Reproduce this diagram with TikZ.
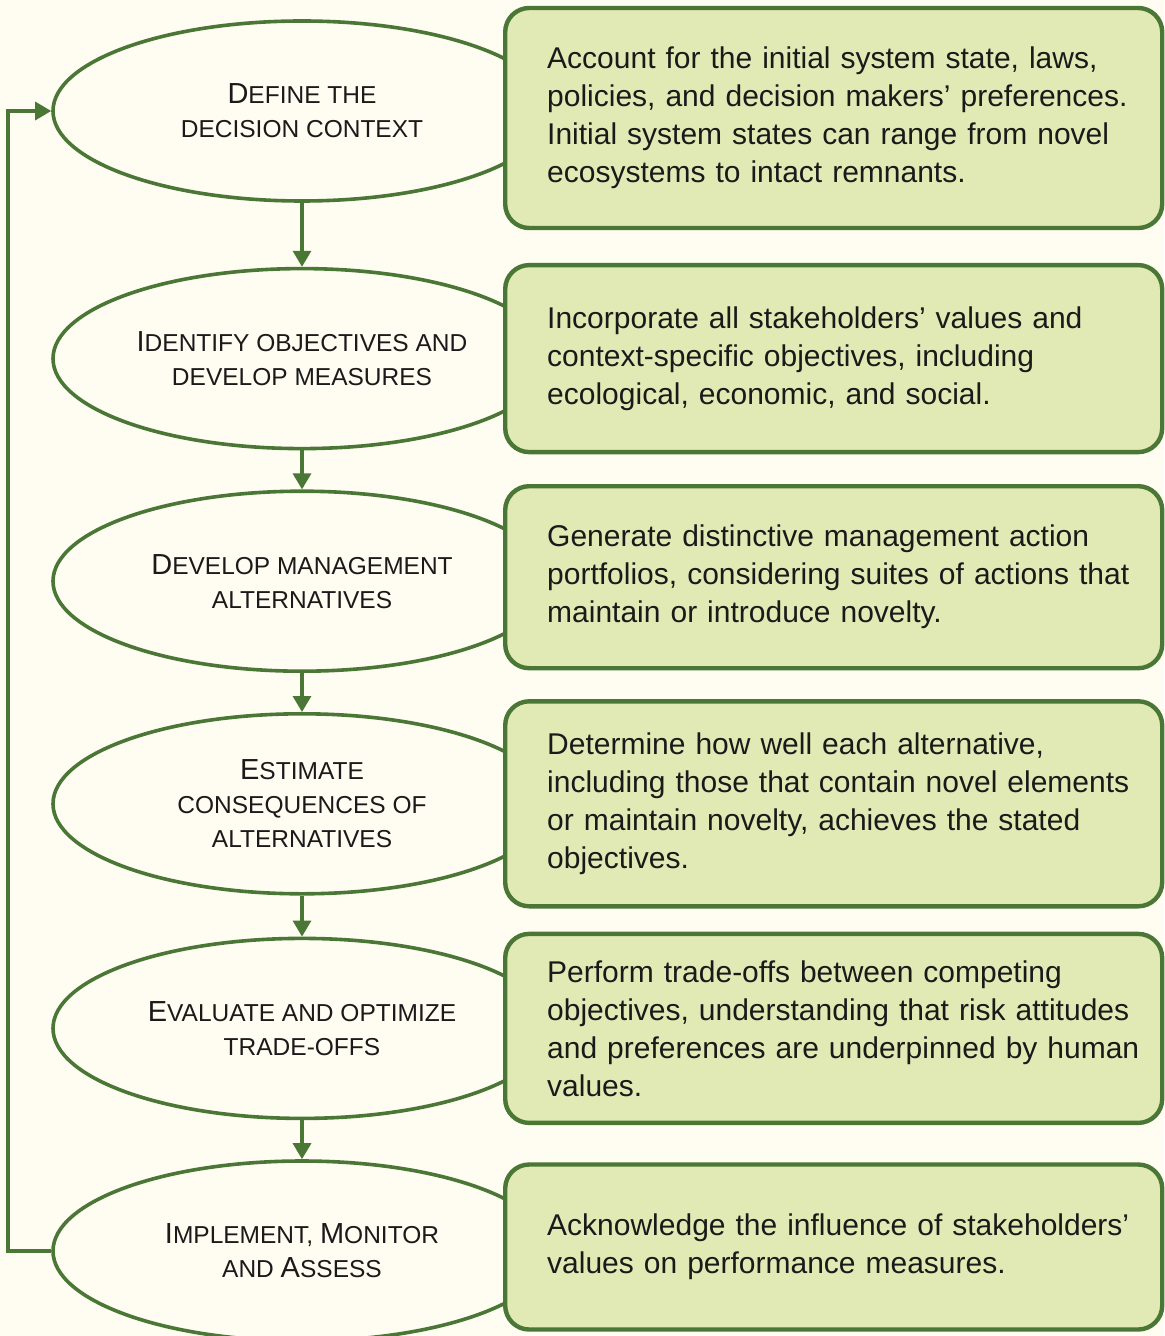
\documentclass[tikz,border=0pt]{standalone}
\usepackage{fontspec}
\setmainfont{Liberation Sans}
\usepackage{xcolor}
\usetikzlibrary{arrows.meta,positioning,shapes.geometric}

\definecolor{paper}{HTML}{FFFCF2}
\definecolor{leaf}{HTML}{E1EAB4}
\definecolor{moss}{HTML}{4B7736}
\definecolor{ink}{HTML}{1A1A1A}

\newcommand{\initial}[1]{{\fontsize{14.5pt}{17pt}\selectfont #1}}

\begin{document}
\begin{tikzpicture}[
  x=0.5pt, y=-0.5pt,
  node distance=19.5pt,
  stage/.style={ellipse,draw=moss,line width=1.8pt,fill=paper,align=center,
    minimum width=249pt,minimum height=90pt,inner sep=0pt,text=ink,
    font=\fontsize{12.25pt}{17pt}\selectfont},
  note/.style={draw=moss,line width=2.2pt,rounded corners=12pt,fill=leaf,anchor=west,
    align=left,text width=322.5pt,inner xsep=3pt,inner ysep=0pt,text=ink,
    font=\fontsize{15pt}{19pt}\selectfont,
    execute at begin node={\leftskip=18pt\hyphenpenalty=10000}},
  flow/.style={-{Triangle[length=8pt,width=9pt]},draw=moss,line width=1.6pt}
]

% --- Page ---
\fill[paper] (0,0) rectangle (1164,1336);
\useasboundingbox (0,0) rectangle (1164,1336);

% --- Stages (left column) ---
\node[stage] (e1) at (302,111) {\initial{D}EFINE THE\\DECISION CONTEXT};
\node[stage, below=32pt of e1] (e2) {\initial{I}DENTIFY OBJECTIVES AND\\DEVELOP MEASURES};
\node[stage, below=of e2] (e3) {\initial{D}EVELOP MANAGEMENT\\ALTERNATIVES};
\node[stage, below=of e3] (e4) {\initial{E}STIMATE\\CONSEQUENCES OF\\ALTERNATIVES};
\node[stage, below=20.5pt of e4] (e5) {\initial{E}VALUATE AND OPTIMIZE\\TRADE-OFFS};
\node[stage, below=of e5] (e6) {\initial{I}MPLEMENT, \initial{M}ONITOR\\AND \initial{A}SSESS};

% --- Notes (drawn over the stages) ---
\node[note, minimum height=110pt] (n1) at ([xshift=100.5pt,yshift=-3.5pt]e1.center)
  {Account for the initial system state, laws,\\policies, and decision makers' preferences.\\Initial system states can range from novel\\ecosystems to intact remnants.};
\node[note, minimum height=93.5pt] (n2) at ([xshift=100.5pt]e2.center)
  {Incorporate all stakeholders' values and\\context-specific objectives, including\\ecological, economic, and social.};
\node[note, minimum height=91pt] (n3) at ([xshift=100.5pt,yshift=2pt]e3.center)
  {Generate distinctive management action\\portfolios, considering suites of actions that\\maintain or introduce novelty.};
\node[note, minimum height=102.5pt] (n4) at ([xshift=100.5pt]e4.center)
  {Determine how well each alternative,\\including those that contain novel elements\\or maintain novelty, achieves the stated\\objectives.};
\node[note, minimum height=94.5pt] (n5) at ([xshift=100.5pt]e5.center)
  {Perform trade-offs between competing\\objectives, understanding that risk attitudes\\and preferences are underpinned by human\\values.};
\node[note, minimum height=82.5pt] (n6) at ([xshift=100.5pt,yshift=2pt]e6.center)
  {Acknowledge the influence of stakeholders'\\values on performance measures.};

% --- Flow down the stages ---
\draw[flow] (e1) -- (e2);
\draw[flow] (e2) -- (e3);
\draw[flow] (e3) -- (e4);
\draw[flow] (e4) -- (e5);
\draw[flow] (e5) -- (e6);

% --- Feedback loop back to the start ---
\coordinate (back) at (8,0);
\draw[flow] (e6.west) -- (e6.west -| back) |- (e1.west);
\end{tikzpicture}
\end{document}
